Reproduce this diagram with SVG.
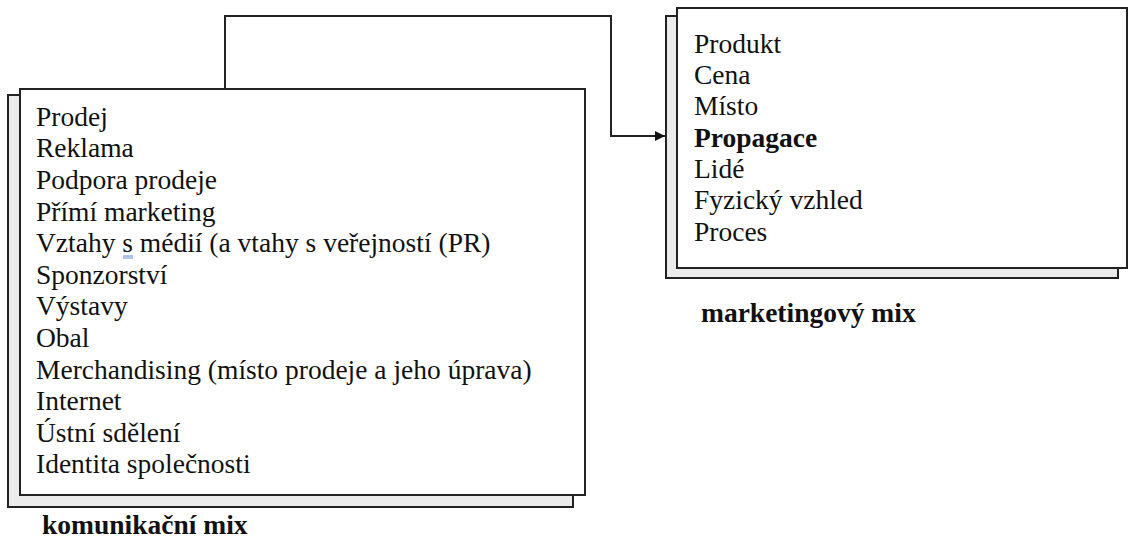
<svg xmlns="http://www.w3.org/2000/svg" width="1128" height="539" viewBox="0 0 1128 539">
  <defs>
    <style>
      .back { fill: #ebebeb; stroke: #222; stroke-width: 2; }
      .front { fill: #ffffff; stroke: #222; stroke-width: 2; }
      .item { font-size: 27.5px; fill: #111; }
      .strong { font-weight: bold; }
      .caption { font-size: 27.5px; font-weight: bold; fill: #111; }
      .link { fill: none; stroke: #222; stroke-width: 2; }
      .spell { stroke: #7a9ee6; stroke-width: 1.2; }
    </style>
    <marker id="arrow" viewBox="0 0 10 10" refX="10" refY="5" markerWidth="10" markerHeight="10" markerUnits="userSpaceOnUse" orient="auto">
      <path d="M0,0 L10,5 L0,10 z" fill="#111"/>
    </marker>
  </defs>

  <!-- connector from the communication mix to the marketing mix -->
  <g id="connectors">
    <polyline class="link" points="225,89 225,16 611,16 611,136 665,136" marker-end="url(#arrow)"/>
  </g>

  <g font-family="Liberation Serif, Times New Roman, serif">
    <!-- communication mix box -->
    <g id="komunikacni-mix">
      <rect class="back" x="8" y="95" width="565" height="412"/>
      <rect class="front" x="20" y="89" width="565" height="406"/>
      <text class="item" x="36" y="125.7">Prodej</text>
      <text class="item" x="36" y="157.3">Reklama</text>
      <text class="item" x="36" y="188.9">Podpora prodeje</text>
      <text class="item" x="36" y="220.5">Přímí marketing</text>
      <text class="item" x="36" y="252.1">Vztahy s médií (a vtahy s veřejností (PR)</text>
      <text class="item" x="36" y="283.7">Sponzorství</text>
      <text class="item" x="36" y="315.3">Výstavy</text>
      <text class="item" x="36" y="346.9">Obal</text>
      <text class="item" x="36" y="378.5">Merchandising (místo prodeje a jeho úprava)</text>
      <text class="item" x="36" y="410.1">Internet</text>
      <text class="item" x="36" y="441.7">Ústní sdělení</text>
      <text class="item" x="36" y="473.3">Identita společnosti</text>
      <!-- spelling underline under "s" -->
      <line class="spell" x1="123" y1="256" x2="133" y2="256"/>
      <line class="spell" x1="123" y1="258" x2="133" y2="258"/>
    </g>
    <text id="label-komunikacni" class="caption" x="42" y="534">komunikační mix</text>

    <!-- marketing mix box -->
    <g id="marketingovy-mix">
      <rect class="back" x="666" y="16" width="452" height="262"/>
      <rect class="front" x="677" y="8" width="450" height="260"/>
      <text class="item" x="694" y="52.7">Produkt</text>
      <text class="item" x="694" y="84">Cena</text>
      <text class="item" x="694" y="115.3">Místo</text>
      <text class="item strong" x="694" y="146.6">Propagace</text>
      <text class="item" x="694" y="177.9">Lidé</text>
      <text class="item" x="694" y="209.2">Fyzický vzhled</text>
      <text class="item" x="694" y="240.5">Proces</text>
    </g>
    <text id="label-marketingovy" class="caption" x="701" y="322">marketingový mix</text>
  </g>
</svg>
